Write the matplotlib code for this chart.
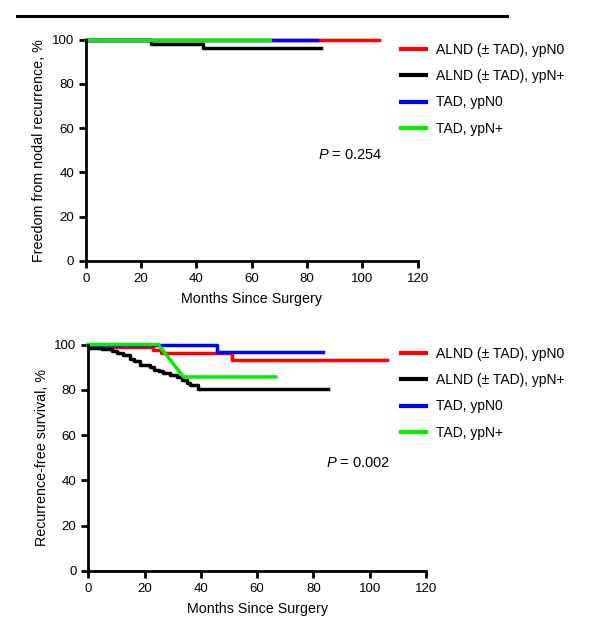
import matplotlib
matplotlib.use('Agg')
import matplotlib.pyplot as plt
from matplotlib.lines import Line2D

plt.rcParams['font.family'] = ['Liberation Sans', 'DejaVu Sans']
plt.rcParams['mathtext.fontset'] = 'custom'
plt.rcParams['mathtext.it'] = 'Liberation Sans:italic'
plt.rcParams['mathtext.rm'] = 'Liberation Sans'

labels = ['ALND (± TAD), ypN0', 'ALND (± TAD), ypN+', 'TAD, ypN0', 'TAD, ypN+']
colors = ['#ff0000', '#000000', '#0000ff', '#00ee00']

# top panel: freedom from nodal recurrence
top_red_t = [0, 106]
top_red_s = [100, 100]
top_black_t = [0, 23.7, 42.3, 85.2]
top_black_s = [100, 98.2, 96.2, 96.2]
top_blue_t = [0, 83.7]
top_blue_s = [100, 100]
top_green_t = [0, 66.5]
top_green_s = [100, 100]

# bottom panel: recurrence-free survival
bot_red_t = [0, 1.2, 23, 26, 51, 106]
bot_red_s = [100, 99.0, 97.5, 96.3, 93.4, 93.4]
bot_black_t = [0, 0.8, 4.9, 8.4, 10.2, 12.5, 14.9, 16.1, 18.5, 22, 23.2, 25,
               26.7, 29.1, 31.5, 33.3, 35, 36.2, 39.1, 85.3]
bot_black_s = [100, 98.6, 98.1, 97.0, 96.3, 95.6, 93.8, 92.6, 91.2, 90.1, 88.9,
               88.2, 87.5, 86.7, 85.7, 84.5, 83.0, 82.3, 80.4, 80.4]
bot_blue_t = [0, 45.6, 83.4]
bot_blue_s = [100, 96.8, 96.8]
bot_green_t = [0, 25, 33.8, 66.7]
bot_green_s = [100, 100, 85.7, 85.7]

fig = plt.figure(figsize=(6, 6.3), dpi=100)
ax1 = fig.add_axes([0.143, 0.586, 0.553, 0.351])
ax2 = fig.add_axes([0.147, 0.094, 0.563, 0.359])

lw = 2.5
ax1.step(top_red_t, top_red_s, where='post', color=colors[0], lw=lw, clip_on=False)
ax1.step(top_black_t, top_black_s, where='post', color=colors[1], lw=lw, clip_on=False)
ax1.step(top_blue_t, top_blue_s, where='post', color=colors[2], lw=lw, clip_on=False)
ax1.step(top_green_t, top_green_s, where='post', color=colors[3], lw=lw, clip_on=False)

ax2.step(bot_red_t, bot_red_s, where='post', color=colors[0], lw=lw, clip_on=False)
ax2.step(bot_black_t, bot_black_s, where='post', color=colors[1], lw=lw, clip_on=False)
ax2.step(bot_blue_t, bot_blue_s, where='post', color=colors[2], lw=lw, clip_on=False)
ax2.plot(bot_green_t, bot_green_s, color=colors[3], lw=lw, clip_on=False)

legend_tops = [1 - 43 / 630, 1 - 347 / 630]
for ax, ylab, ltop in [(ax1, 'Freedom from nodal recurrence, %', legend_tops[0]),
                       (ax2, 'Recurrence-free survival, %', legend_tops[1])]:
    ax.set_xlim(0, 120)
    ax.set_ylim(0, 100)
    ax.set_xticks(range(0, 121, 20))
    ax.set_yticks(range(0, 101, 20))
    for s in ['top', 'right']:
        ax.spines[s].set_visible(False)
    for s in ['left', 'bottom']:
        ax.spines[s].set_linewidth(2)
    ax.tick_params(width=2, length=5, labelsize=9.5)
    ax.set_xlabel('Months Since Surgery', fontsize=10.3, labelpad=5)
    ax.set_ylabel(ylab, fontsize=10.3)
    handles = [Line2D([], [], color=c, lw=3) for c in colors]
    ax.legend(handles, labels, loc='upper left', bbox_to_anchor=(401 / 600, ltop),
              bbox_transform=fig.transFigure, frameon=False, fontsize=10,
              handlelength=1.8, handletextpad=0.7, labelspacing=0.88,
              borderpad=0, borderaxespad=0)

ax1.text(0.7, 0.46, r'$P$ = 0.254', transform=ax1.transAxes, fontsize=10.5)
ax2.text(0.705, 0.46, r'$P$ = 0.002', transform=ax2.transAxes, fontsize=10.5)

fig.add_artist(Line2D([17 / 600, 507 / 600], [1 - 16 / 630, 1 - 16 / 630], color='black', lw=2.2))

fig.savefig('out.png', dpi=100)
